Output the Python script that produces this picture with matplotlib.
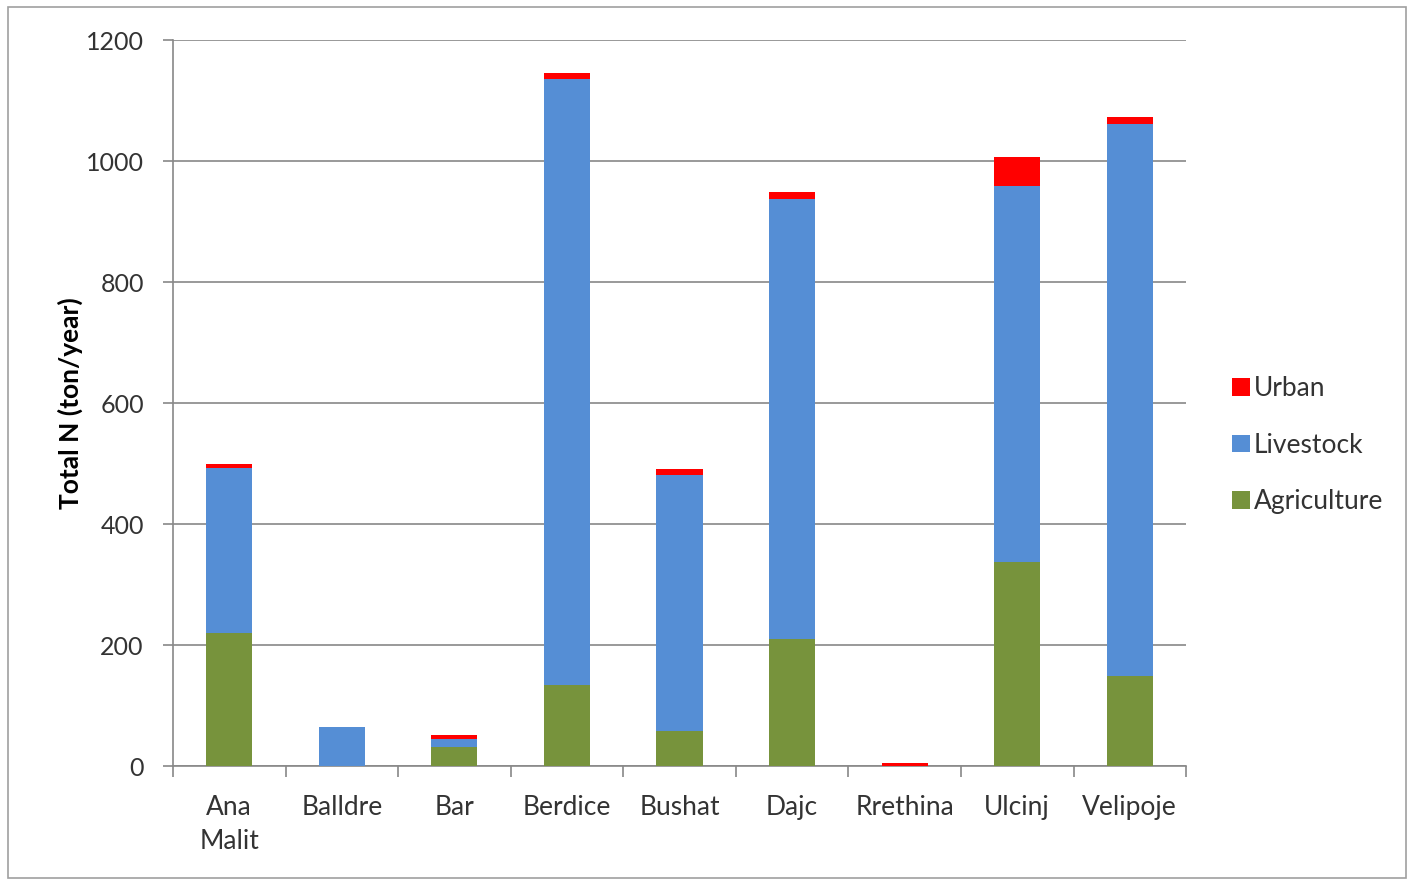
import numpy as np
import matplotlib.pyplot as plt
from matplotlib.patches import Rectangle

plt.rcParams['font.family'] = ['Lato', 'DejaVu Sans']

# Data (ton/year)
sites = ['Ana\nMalit', 'Balldre', 'Bar', 'Berdice', 'Bushat', 'Dajc', 'Rrethina', 'Ulcinj', 'Velipoje']
agriculture = [220, 0, 32, 134, 58, 210, 0, 337, 149]
livestock = [272, 64, 12, 1001, 423, 727, 0, 622, 912]
urban = [8, 0, 7, 10, 10, 12, 5, 48, 12]

c_agri = '#77933C'
c_live = '#558ED5'
c_urban = '#FF0000'

fig = plt.figure(figsize=(14.12, 8.8), dpi=100)
fig.patches.append(Rectangle((0.006, 0.002), 0.99, 0.99, transform=fig.transFigure,
                             fill=False, edgecolor='#a0a0a0', linewidth=1.2))
ax = fig.add_axes([0.1225, 0.1295, 0.7175, 0.825])

x = np.arange(len(sites))
w = 0.41
agri = np.array(agriculture)
live = np.array(livestock)
urb = np.array(urban)
ax.bar(x, agri, w, color=c_agri, label='Agriculture', zorder=3)
ax.bar(x, live, w, bottom=agri, color=c_live, label='Livestock', zorder=3)
ax.bar(x, urb, w, bottom=agri + live, color=c_urban, label='Urban', zorder=3)

ax.set_xlim(-0.5, len(sites) - 0.5)
ax.set_ylim(0, 1200)
ax.set_yticks(range(0, 1201, 200))
ax.grid(axis='y', color='#888888', linewidth=1.2, zorder=0)

ax.set_xticks(x)
ax.set_xticklabels(sites, fontsize=19, color='#333333', linespacing=1.45)
ax.tick_params(axis='x', length=0, pad=21)
ax.set_xticks(np.arange(-0.5, len(sites)), minor=True)
ax.tick_params(axis='x', which='minor', length=8, color='#888888', width=1.2)
ax.tick_params(axis='y', length=7, color='#888888', width=1.2, labelsize=18,
               labelcolor='#333333', pad=14)

for s in ['top', 'right']:
    ax.spines[s].set_visible(False)
for s in ['left', 'bottom']:
    ax.spines[s].set_color('#888888')
    ax.spines[s].set_linewidth(1.2)

ax.set_ylabel('Total N (ton/year)', fontsize=19, fontweight='bold', labelpad=2)

handles, labels = ax.get_legend_handles_labels()
fig.legend(handles[::-1], labels[::-1], loc='center left', bbox_to_anchor=(0.856, 0.494),
           frameon=False, fontsize=19, handlelength=0.65, handleheight=0.65,
           handletextpad=0.15, labelspacing=1.2, labelcolor='#333333')

fig.savefig('out.png', dpi=100)
